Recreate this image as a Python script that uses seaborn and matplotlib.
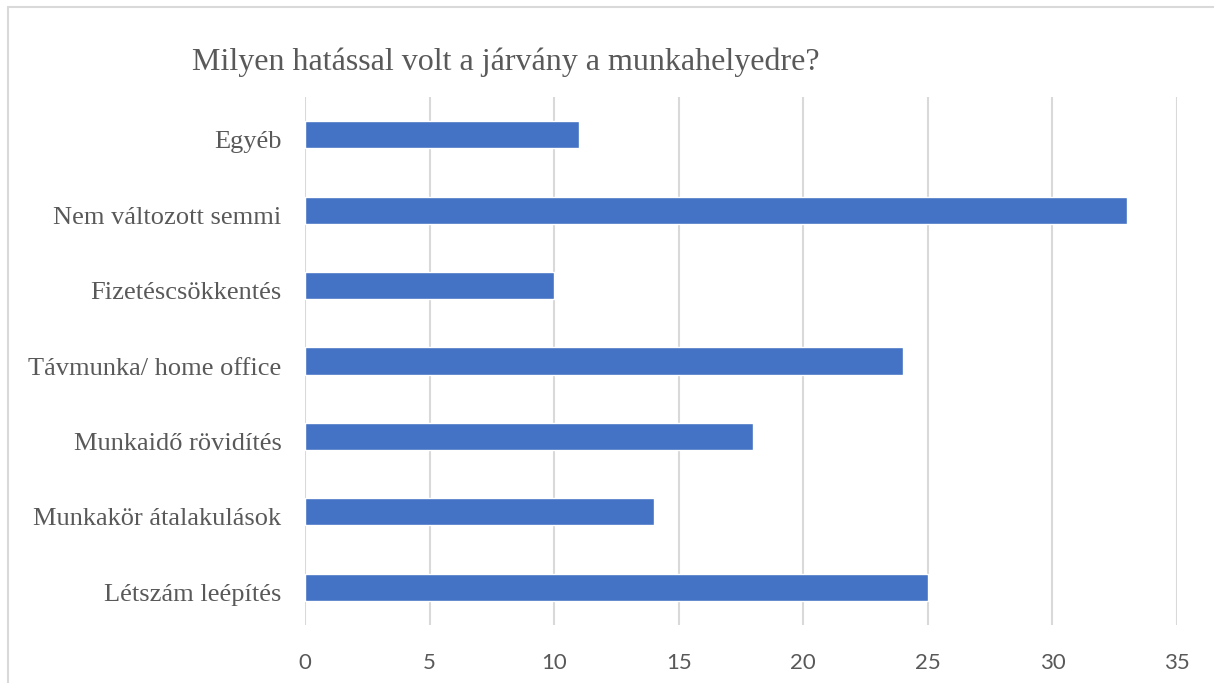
import numpy as np
import pandas as pd
import matplotlib.pyplot as plt
import seaborn as sns
from matplotlib.lines import Line2D
from matplotlib.transforms import ScaledTranslation

# Adatok (felulrol lefele, ahogy a diagramon)
categories = [
    "Egyéb",
    "Nem változott semmi",
    "Fizetéscsökkentés",
    "Távmunka/ home office",
    "Munkaidő rövidítés",
    "Munkakör átalakulások",
    "Létszám leépítés",
]
counts = [11, 33, 10, 24, 18, 14, 25]
x_ticks = [0, 5, 10, 15, 20, 25, 30, 35]

TITLE = "Milyen hatással volt a járvány a munkahelyedre?"
BAR_COLOR = "#4472C4"
GRID_COLOR = "#D9D9D9"
TEXT_COLOR = "#595959"

sns.set_style("white")
plt.rcParams["font.family"] = ["Liberation Serif", "DejaVu Serif"]

df = pd.DataFrame({"kategoria": categories, "db": counts})

W, H = 1214, 683
fig = plt.figure(figsize=(W / 100, H / 100), dpi=100)
ax = fig.add_axes([305 / W, 1 - 625 / H, (1177 - 305) / W, (625 - 97) / H])

sns.barplot(data=df, x="db", y="kategoria", orient="h", color=BAR_COLOR,
            width=0.36, saturation=1, ax=ax, zorder=3)

ax.set_xlim(0, 35)
ax.set_ylim(len(categories) - 0.5, -0.5)
ax.set_xticks(x_ticks)
ax.xaxis.grid(True, color=GRID_COLOR, linewidth=1.5, zorder=0)
ax.yaxis.grid(False)
for s in ax.spines.values():
    s.set_visible(False)
ax.tick_params(axis="both", length=0)
ax.tick_params(axis="y", pad=17, labelsize=19, labelcolor=TEXT_COLOR)
ax.tick_params(axis="x", pad=20, labelsize=16, labelcolor=TEXT_COLOR)
for lab in ax.get_xticklabels():
    lab.set_family(["Lato", "DejaVu Sans"])
# a kategoria feliratok kicsit lejjebb ulnek, mint a savok kozepe
shift = ScaledTranslation(0, -5 / 100, fig.dpi_scale_trans)
for lab in ax.get_yticklabels():
    lab.set_transform(lab.get_transform() + shift)
ax.set_xlabel("")
ax.set_ylabel("")

fig.text(192 / W, 1 - 62 / H, TITLE, fontsize=23, color=TEXT_COLOR,
         ha="left", va="center")

# keret a diagram korul (csak felso es bal oldal latszik)
fig.lines.append(Line2D([8 / W, 1.0], [1 - 7 / H, 1 - 7 / H],
                        transform=fig.transFigure, color=GRID_COLOR, linewidth=1.5))
fig.lines.append(Line2D([8 / W, 8 / W], [0.0, 1 - 7 / H],
                        transform=fig.transFigure, color=GRID_COLOR, linewidth=1.5))

fig.savefig("out.png", dpi=100)
